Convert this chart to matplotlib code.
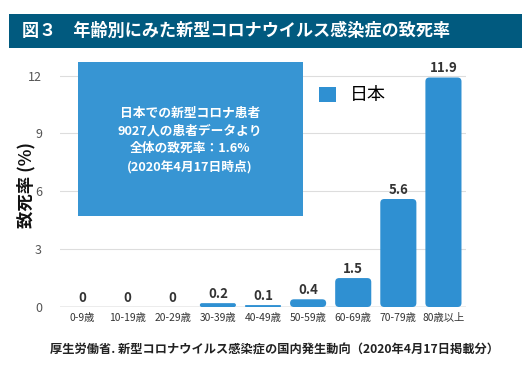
import matplotlib
matplotlib.use("Agg")
import matplotlib.pyplot as plt
from matplotlib.patches import FancyBboxPatch, Rectangle

plt.rcParams['font.family'] = ['Noto Sans CJK JP', 'DejaVu Sans']

# data
age_groups = ['0-9歳', '10-19歳', '20-29歳', '30-39歳', '40-49歳',
              '50-59歳', '60-69歳', '70-79歳', '80歳以上']
death_rate = [0, 0, 0, 0.2, 0.1, 0.4, 1.5, 5.6, 11.9]
rate_labels = ['0', '0', '0', '0.2', '0.1', '0.4', '1.5', '5.6', '11.9']
y_ticks = [0, 3, 6, 9, 12]

title = '図３　年齢別にみた新型コロナウイルス感染症の致死率'
note = '日本での新型コロナ患者\n9027人の患者データより\n全体の致死率：1.6%\n(2020年4月17日時点)'
source = '厚生労働省. 新型コロナウイルス感染症の国内発生動向（2020年4月17日掲載分）'

bar_color = '#2f90d2'
box_color = '#3795d3'
title_bg = '#015a7f'

fig = plt.figure(figsize=(5.22, 3.67), dpi=100)
W, H = 522, 367
ax = fig.add_axes([60 / W, 1 - 307 / H, 406 / W, 243 / H])

# bars: draw with ax.bar then swap in rounded patches
bars = ax.bar(range(len(age_groups)), death_rate, width=0.8, color=bar_color)
xunit = 406 / 9.0
yunit = 243 / 12.6
aspect = (1 / yunit) / (1 / xunit)
for b in bars:
    b.set_visible(False)
    h = b.get_height()
    if h <= 0:
        continue
    r = min(4.0 / xunit, h / aspect / 2)
    p = FancyBboxPatch((b.get_x(), 0), b.get_width(), h,
                       boxstyle=f"round,pad=0,rounding_size={r}",
                       mutation_aspect=aspect, fc=bar_color, ec='none', zorder=3)
    ax.add_patch(p)

for i, (v, lab) in enumerate(zip(death_rate, rate_labels)):
    ax.annotate(lab, (i, v), xytext=(0, 1.5), textcoords='offset points',
                ha='center', va='bottom', fontsize=9.5, fontweight='bold',
                color='#333333', zorder=4)

ax.set_xlim(-0.5, 8.5)
ax.set_ylim(0, 12.6)
ax.set_yticks(y_ticks)
ax.set_yticklabels([str(t) for t in y_ticks], fontsize=9, color='#555555')
ax.set_xticks(range(len(age_groups)))
ax.set_xticklabels(age_groups, fontsize=7.4, color='#333333')
ax.tick_params(axis='both', length=0)
ax.tick_params(axis='y', pad=13)
ax.tick_params(axis='x', pad=4)
ax.grid(axis='y', color='#dddddd', lw=0.8, zorder=0)
ax.set_axisbelow(True)
for s in ax.spines.values():
    s.set_visible(False)
ax.axhline(0, color='#aaaaaa', lw=1, zorder=2)

ax.set_ylabel('致死率 (%)', fontsize=12.5, fontweight='bold', color='#111111')
ax.yaxis.set_label_coords(-0.06, 0.5)

# legend
leg = ax.legend([Rectangle((0, 0), 1, 1, fc=bar_color)], ['日本'],
                loc='upper left', bbox_to_anchor=(303 / W, 1 - 70 / H),
                bbox_transform=fig.transFigure, frameon=False, fontsize=13,
                handlelength=0.9, handleheight=0.9, handletextpad=0.8)

# title bar
fig.add_artist(Rectangle((9 / W, 1 - 48 / H), 1, 34 / H, transform=fig.transFigure,
                         fc=title_bg, ec='none'))
fig.text(22 / W, 1 - 31 / H, title, color='white', fontsize=12.3,
         fontweight='bold', va='center', ha='left')

# annotation box
fig.add_artist(Rectangle((78 / W, 1 - 216 / H), 225 / W, 154 / H,
                         transform=fig.transFigure, fc=box_color, ec='none',
                         zorder=5))
fig.text(190 / W, 1 - 140 / H, note, color='white', fontsize=9.2,
         fontweight='bold', ha='center', va='center', linespacing=1.45,
         zorder=6)

# source note
fig.text(274 / W, 1 - 349 / H, source, fontsize=8.8, fontweight='bold',
         color='#222222', ha='center', va='center')

fig.savefig('out.png', dpi=100)
